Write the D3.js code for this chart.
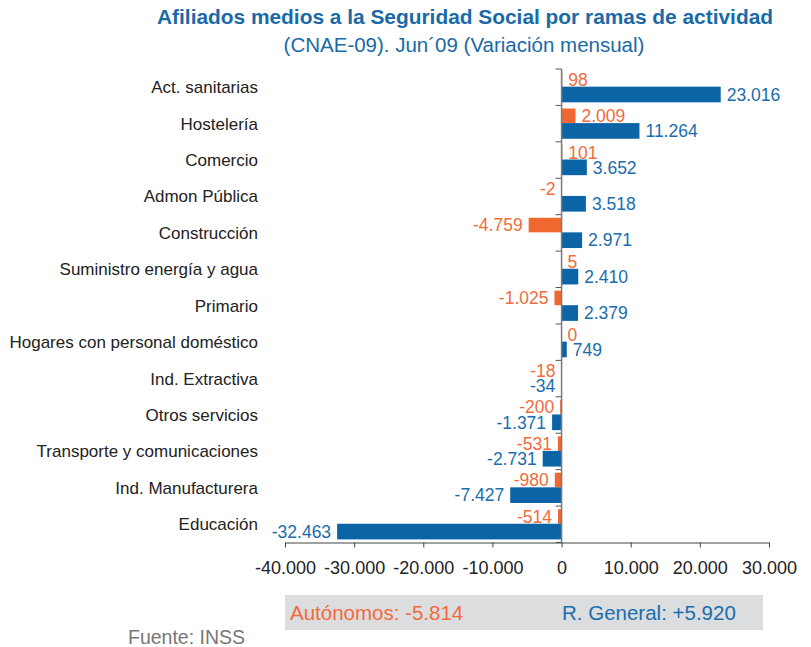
<!DOCTYPE html>
<html>
<head>
<meta charset="utf-8">
<script src="https://cdn.jsdelivr.net/npm/d3@7"></script>
<style>
  html, body { margin: 0; padding: 0; background: #fff; }
  svg { display: block; font-family: "Liberation Sans", Arial, Helvetica, sans-serif; }
</style>
</head>
<body>
<svg id="chart" width="811" height="647"></svg>
<script>
const categories = [
  "Act. sanitarias", "Hostelería", "Comercio", "Admon Pública", "Construcción",
  "Suministro energía y agua", "Primario", "Hogares con personal doméstico",
  "Ind. Extractiva", "Otros servicios", "Transporte y comunicaciones",
  "Ind. Manufacturera", "Educación"
];
const autonomos = [98, 2009, 101, -2, -4759, 5, -1025, 0, -18, -200, -531, -980, -514];
const general   = [23016, 11264, 3652, 3518, 2971, 2410, 2379, 749, -34, -1371, -2731, -7427, -32463];
const xTicks = [-40000, -30000, -20000, -10000, 0, 10000, 20000, 30000];
const titleText = "Afiliados medios a la Seguridad Social por ramas de actividad";
const subtitleText = "(CNAE-09). Jun´09 (Variación mensual)";
const totalAutonomos = "Autónomos: -5.814";
const totalGeneral = "R. General: +5.920";
const sourceText = "Fuente: INSS";

const ORANGE = "#f0672f", ORANGE_TXT = "#f26b3a";
const BLUE = "#0b64a5", BLUE_TXT = "#1a6dad";

const locale = d3.formatLocale({decimal: ",", thousands: ".", grouping: [3], currency: ["", ""], minus: "-"});
const fmt = locale.format(",d");

const svg = d3.select("#chart");
const x = d3.scaleLinear().domain([-40000, 30000]).range([285, 769]);
const y = d3.scaleBand().domain(categories).range([69, 542.5]);
const bw = y.bandwidth();
const padTop = 0.085 * bw, hO = 0.40 * bw, hB = 0.43 * bw;

// Title
svg.append("text").attr("x", 465).attr("y", 24).attr("text-anchor", "middle")
  .attr("font-weight", "bold").attr("font-size", 20.8).attr("fill", "#1a6aa8")
  .attr("textLength", 616).attr("lengthAdjust", "spacingAndGlyphs").text(titleText);
svg.append("text").attr("x", 464).attr("y", 52).attr("text-anchor", "middle")
  .attr("font-size", 20.5).attr("fill", "#1a6aa8").text(subtitleText);

const data = categories.map((c, i) => ({c, a: autonomos[i], g: general[i]}));

// Orange bars
svg.append("g").selectAll("rect").data(data).join("rect")
  .attr("x", d => x(Math.min(0, d.a)))
  .attr("width", d => Math.abs(x(d.a) - x(0)))
  .attr("y", d => y(d.c) + padTop)
  .attr("height", hO)
  .attr("fill", ORANGE);
// Blue bars
svg.append("g").selectAll("rect").data(data).join("rect")
  .attr("x", d => x(Math.min(0, d.g)))
  .attr("width", d => Math.abs(x(d.g) - x(0)))
  .attr("y", d => y(d.c) + padTop + hO)
  .attr("height", hB)
  .attr("fill", BLUE);

// Value labels
svg.append("g").selectAll("text").data(data).join("text")
  .attr("x", d => d.a >= 0 ? x(d.a) + 6 : x(d.a) - 6)
  .attr("y", d => y(d.c) + padTop + hO / 2)
  .attr("dy", "0.36em")
  .attr("text-anchor", d => d.a >= 0 ? "start" : "end")
  .attr("font-size", 17.5).attr("fill", ORANGE_TXT)
  .text(d => fmt(d.a));
svg.append("g").selectAll("text").data(data).join("text")
  .attr("x", d => d.g >= 0 ? x(d.g) + 6 : x(d.g) - 6)
  .attr("y", d => y(d.c) + padTop + hO + hB / 2)
  .attr("dy", "0.36em")
  .attr("text-anchor", d => d.g >= 0 ? "start" : "end")
  .attr("font-size", 17.5).attr("fill", BLUE_TXT)
  .text(d => fmt(d.g));

// Category labels
svg.append("g").selectAll("text").data(categories).join("text")
  .attr("x", 258)
  .attr("y", d => y(d) + bw / 2)
  .attr("dy", "0.35em")
  .attr("text-anchor", "end")
  .attr("font-size", 17).attr("fill", "#222")
  .text(d => d);

// Y axis line and ticks at band boundaries
const boundaries = categories.map(c => y(c)).concat([y.range()[1]]);
const yAx = svg.append("g");
yAx.selectAll("line.t").data(boundaries).join("line")
  .attr("x1", x(0) - 6).attr("x2", x(0))
  .attr("y1", d => d).attr("y2", d => d)
  .attr("stroke", "#555").attr("stroke-width", 1);
yAx.append("line").attr("x1", x(0)).attr("x2", x(0))
  .attr("y1", y.range()[0]).attr("y2", y.range()[1])
  .attr("stroke", "#7a7a7a").attr("stroke-width", 1.5);

// X axis
const xAxis = svg.append("g").attr("transform", `translate(0,${y.range()[1]})`)
  .call(d3.axisBottom(x).tickValues(xTicks).tickFormat(fmt).tickSize(5).tickSizeOuter(0).tickPadding(14));
xAxis.select(".domain").attr("stroke", "#444").attr("stroke-width", 1.2);
xAxis.selectAll(".tick line").attr("stroke", "#444");
xAxis.selectAll(".tick text").attr("font-size", 18).attr("fill", "#222")
  .attr("font-family", "'Liberation Sans', Arial, sans-serif");

// Totals box
svg.append("rect").attr("x", 285).attr("y", 595).attr("width", 478).attr("height", 35).attr("fill", "#dcdddf");
svg.append("text").attr("x", 290).attr("y", 620).attr("font-size", 20.5).attr("fill", ORANGE_TXT).text(totalAutonomos);
svg.append("text").attr("x", 562).attr("y", 620).attr("font-size", 20.5).attr("fill", BLUE_TXT).text(totalGeneral);

// Source
svg.append("text").attr("x", 128).attr("y", 644).attr("font-size", 19.5).attr("fill", "#777").text(sourceText);
</script>
</body>
</html>
